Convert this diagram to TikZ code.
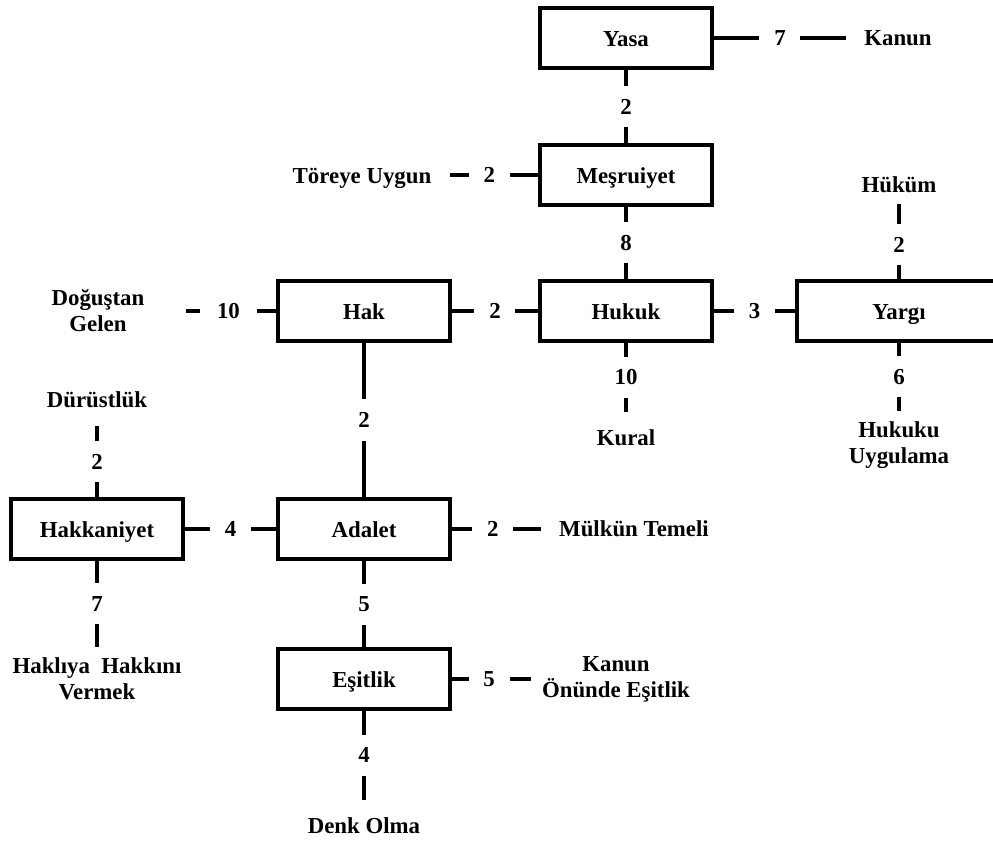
\documentclass[tikz,border=0pt]{standalone}
\usepackage{fontspec}
\setmainfont{Liberation Serif}
\usepackage{tikz}

\begin{document}
\begin{tikzpicture}[node distance={5.3cm},
    font=\fontsize{13}{14.8}\selectfont\bfseries,
    box/.style = {draw, line width=2.2pt, minimum width=3.44cm, minimum height=1.2cm,
                  text height=10pt, text depth=0pt},
    term/.style = {align=center, outer sep=0.25cm},
    near/.style = {term, outer sep=0.1cm},
    num/.style = {fill=white, inner sep=0pt, minimum size=0.82cm},
    link/.style = {line width=2.2pt}]
            \useasboundingbox (-12.52,6.22) rectangle (7.34,-10.64);
            \clip (-12.52,6.22) rectangle (7.34,-10.64);

            % Boxes
            \node[box] (hukuk) {Hukuk};
            \node[box] (mesru) [above of=hukuk, node distance=2.72cm] {Meşruiyet};
            \node[box] (yasa) [above of=mesru, node distance=2.74cm] {Yasa};
            \node[box] (hak) [left of=hukuk, node distance=5.24cm] {Hak};
            \node[box, minimum width=4.08cm] (yargi) [right of=hukuk, node distance=5.46cm] {Yargı};
            \node[box] (adalet) [below of=hak, node distance=4.36cm] {Adalet};
            \node[box] (hakkan) [left of=adalet, node distance=5.34cm] {Hakkaniyet};
            \node[box] (esit) [below of=adalet, node distance=3.0cm] {Eşitlik};

            % Terms
            \node[term] (kanun) [right of=yasa, node distance=5.44cm] {Kanun};
            \node[term, text height=10pt, text depth=0pt] (tore) [left of=mesru, node distance=5.28cm] {Töreye Uygun};
            \node[near] (hukum) [above of=yargi, node distance=2.52cm] {Hüküm};
            \node[term] (dogus) [left of=hak, node distance=5.32cm] {Doğuştan\\Gelen};
            \node[term] (kural) [below of=hukuk, node distance=2.54cm] {Kural};
            \node[near] (uygula) [below of=yargi, node distance=2.68cm] {Hukuku\\Uygulama};
            \node[term] (durust) [above of=hakkan, node distance=2.58cm] {Dürüstlük};
            \node[term] (mulk) [right of=adalet, node distance=5.4cm] {Mülkün Temeli};
            \node[near] (hakli) [below of=hakkan, node distance=3.0cm] {Haklıya\ \ Hakkını\\Vermek};
            \node[near] (onunde) [right of=esit, node distance=5.04cm] {Kanun\\Önünde Eşitlik};
            \node[term] (denk) [below of=esit, node distance=2.94cm] {Denk Olma};

            % Lines between boxes
            \draw[link] (yasa) -- node[num] {2} (mesru);
            \draw[link] (mesru) -- node[num] {8} (hukuk);
            \draw[link] (hak) -- node[num] {2} (hukuk);
            \draw[link] (hukuk) -- node[num] {3} (yargi);
            \draw[link] (hak) -- node[num] {2} (adalet);
            \draw[link] (hakkan) -- node[num] {4} (adalet);
            \draw[link] (adalet) -- node[num] {5} (esit);

            % Lines to terms
            \draw[link] (yasa) -- node[num] {7} (kanun);
            \draw[link] (mesru) -- node[num, pos=0.55] {2} (tore);
            \draw[link] (yargi) -- node[num, pos=0.46] {2} (hukum);
            \draw[link, shorten >=0.46cm] (hak) -- node[num, minimum width=1.14cm, pos=0.42] {10} (dogus);
            \draw[link] (hukuk) -- node[num] {10} (kural);
            \draw[link] (yargi) -- node[num] {6} (uygula);
            \draw[link] (hakkan) -- node[num] {2} (durust);
            \draw[link] (adalet) -- node[num, pos=0.46] {2} (mulk);
            \draw[link] (hakkan) -- node[num] {7} (hakli);
            \draw[link] (esit) -- node[num, pos=0.47] {5} (onunde);
            \draw[link] (esit) -- node[num] {4} (denk);
        \end{tikzpicture}
\end{document}
